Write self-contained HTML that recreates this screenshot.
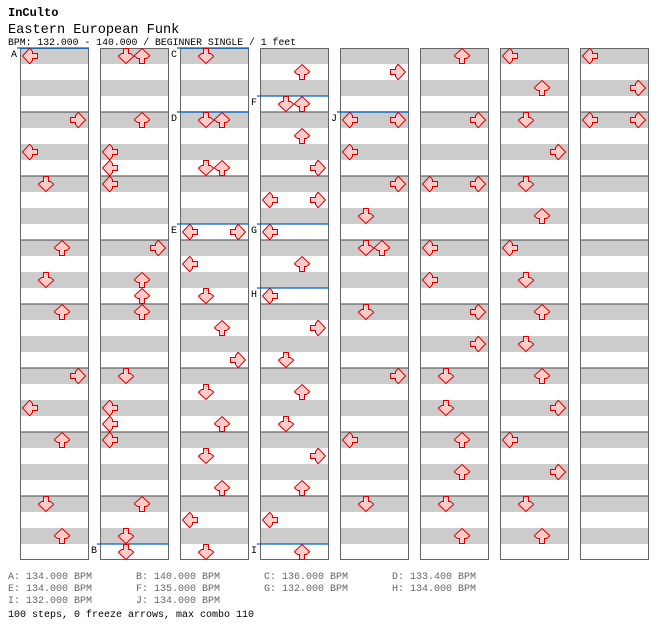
<!DOCTYPE html>
<html><head><meta charset="utf-8"><style>
body{margin:0;background:#fff;width:672px;height:644px;overflow:hidden}
svg{display:block}
text{font-family:"Liberation Mono",monospace}
</style></head><body>
<svg width="672" height="644" viewBox="0 0 672 644" xmlns="http://www.w3.org/2000/svg">
<defs>
<g id="U"><polygon points="8,0.5 15.5,7.5 15.5,8 12.5,10.5 10.5,10.5 10.5,15.5 5.5,15.5 5.5,10.5 3.5,10.5 0.5,8 0.5,7.5" fill="#ffcccc" stroke="#dd0000" stroke-width="1"/></g>
<g id="D"><use href="#U" transform="rotate(180 8 8)"/></g>
<g id="L"><use href="#U" transform="rotate(-90 8 8)"/></g>
<g id="R"><use href="#U" transform="rotate(90 8 8)"/></g>
<g id="col">
<rect x="0" y="48" width="68" height="512" fill="#fff"/>
<g fill="#cccccc">
<rect x="0" y="48" width="68" height="16"/><rect x="0" y="80" width="68" height="16"/><rect x="0" y="112" width="68" height="16"/><rect x="0" y="144" width="68" height="16"/>
<rect x="0" y="176" width="68" height="16"/><rect x="0" y="208" width="68" height="16"/><rect x="0" y="240" width="68" height="16"/><rect x="0" y="272" width="68" height="16"/>
<rect x="0" y="304" width="68" height="16"/><rect x="0" y="336" width="68" height="16"/><rect x="0" y="368" width="68" height="16"/><rect x="0" y="400" width="68" height="16"/>
<rect x="0" y="432" width="68" height="16"/><rect x="0" y="464" width="68" height="16"/><rect x="0" y="496" width="68" height="16"/><rect x="0" y="528" width="68" height="16"/>
</g>
<g stroke="#666" stroke-width="1.2">
<line x1="0" y1="112" x2="68" y2="112"/><line x1="0" y1="176" x2="68" y2="176"/><line x1="0" y1="240" x2="68" y2="240"/><line x1="0" y1="304" x2="68" y2="304"/><line x1="0" y1="368" x2="68" y2="368"/><line x1="0" y1="432" x2="68" y2="432"/><line x1="0" y1="496" x2="68" y2="496"/>
</g>
<rect x="0.5" y="48.5" width="68" height="511" fill="none" stroke="#666" stroke-width="1"/>
</g>
</defs>
<text x="8" y="16" font-size="12" font-weight="bold">InCulto</text>
<text x="8" y="33" font-size="13.6">Eastern European Funk</text>
<text x="8" y="45" font-size="9.8">BPM: 132.000 - 140.000 / BEGINNER SINGLE / 1 feet</text>

<use href="#col" x="20"/><use href="#col" x="100"/><use href="#col" x="180"/><use href="#col" x="260"/>
<use href="#col" x="340"/><use href="#col" x="420"/><use href="#col" x="500"/><use href="#col" x="580"/>

<g stroke="#0066cc" stroke-width="1.2">
<line x1="17" y1="48" x2="89" y2="48"/>
<line x1="97" y1="544" x2="169" y2="544"/>
<line x1="177" y1="48" x2="249" y2="48"/>
<line x1="177" y1="112" x2="249" y2="112"/>
<line x1="177" y1="224" x2="249" y2="224"/>
<line x1="257" y1="96" x2="329" y2="96"/>
<line x1="257" y1="224" x2="329" y2="224"/>
<line x1="257" y1="288" x2="329" y2="288"/>
<line x1="257" y1="544" x2="329" y2="544"/>
<line x1="337" y1="112" x2="409" y2="112"/>
</g>
<g font-size="10">
<text x="11" y="57">A</text><text x="91" y="553">B</text><text x="171" y="57">C</text><text x="171" y="121">D</text><text x="171" y="233">E</text>
<text x="251" y="105">F</text><text x="251" y="233">G</text><text x="251" y="297">H</text><text x="251" y="553">I</text><text x="331" y="121">J</text>
</g>

<!-- col1 -->
<use href="#L" x="22" y="48"/><use href="#R" x="70" y="112"/><use href="#L" x="22" y="144"/><use href="#D" x="38" y="176"/>
<use href="#U" x="54" y="240"/><use href="#D" x="38" y="272"/><use href="#U" x="54" y="304"/><use href="#R" x="70" y="368"/>
<use href="#L" x="22" y="400"/><use href="#U" x="54" y="432"/><use href="#D" x="38" y="496"/><use href="#U" x="54" y="528"/>
<!-- col2 -->
<use href="#D" x="118" y="48"/><use href="#U" x="134" y="48"/><use href="#U" x="134" y="112"/><use href="#L" x="102" y="144"/>
<use href="#L" x="102" y="160"/><use href="#L" x="102" y="176"/><use href="#R" x="150" y="240"/><use href="#U" x="134" y="272"/>
<use href="#U" x="134" y="288"/><use href="#U" x="134" y="304"/><use href="#D" x="118" y="368"/><use href="#L" x="102" y="400"/>
<use href="#L" x="102" y="416"/><use href="#L" x="102" y="432"/><use href="#U" x="134" y="496"/><use href="#D" x="118" y="528"/><use href="#D" x="118" y="544"/>
<!-- col3 -->
<use href="#D" x="198" y="48"/><use href="#D" x="198" y="112"/><use href="#U" x="214" y="112"/><use href="#D" x="198" y="160"/><use href="#U" x="214" y="160"/>
<use href="#L" x="182" y="224"/><use href="#R" x="230" y="224"/><use href="#L" x="182" y="256"/><use href="#D" x="198" y="288"/>
<use href="#U" x="214" y="320"/><use href="#R" x="230" y="352"/><use href="#D" x="198" y="384"/><use href="#U" x="214" y="416"/>
<use href="#D" x="198" y="448"/><use href="#U" x="214" y="480"/><use href="#L" x="182" y="512"/><use href="#D" x="198" y="544"/>
<!-- col4 -->
<use href="#U" x="294" y="64"/><use href="#D" x="278" y="96"/><use href="#U" x="294" y="96"/><use href="#U" x="294" y="128"/>
<use href="#R" x="310" y="160"/><use href="#L" x="262" y="192"/><use href="#R" x="310" y="192"/><use href="#L" x="262" y="224"/>
<use href="#U" x="294" y="256"/><use href="#L" x="262" y="288"/><use href="#R" x="310" y="320"/><use href="#D" x="278" y="352"/>
<use href="#U" x="294" y="384"/><use href="#D" x="278" y="416"/><use href="#R" x="310" y="448"/><use href="#U" x="294" y="480"/>
<use href="#L" x="262" y="512"/><use href="#U" x="294" y="544"/>
<!-- col5 -->
<use href="#R" x="390" y="64"/><use href="#L" x="342" y="112"/><use href="#R" x="390" y="112"/><use href="#L" x="342" y="144"/>
<use href="#R" x="390" y="176"/><use href="#D" x="358" y="208"/><use href="#D" x="358" y="240"/><use href="#U" x="374" y="240"/>
<use href="#D" x="358" y="304"/><use href="#R" x="390" y="368"/><use href="#L" x="342" y="432"/><use href="#D" x="358" y="496"/>
<!-- col6 -->
<use href="#U" x="454" y="48"/><use href="#R" x="470" y="112"/><use href="#L" x="422" y="176"/><use href="#R" x="470" y="176"/>
<use href="#L" x="422" y="240"/><use href="#L" x="422" y="272"/><use href="#R" x="470" y="304"/><use href="#R" x="470" y="336"/>
<use href="#D" x="438" y="368"/><use href="#D" x="438" y="400"/><use href="#U" x="454" y="432"/><use href="#U" x="454" y="464"/>
<use href="#D" x="438" y="496"/><use href="#U" x="454" y="528"/>
<!-- col7 -->
<use href="#L" x="502" y="48"/><use href="#U" x="534" y="80"/><use href="#D" x="518" y="112"/><use href="#R" x="550" y="144"/>
<use href="#D" x="518" y="176"/><use href="#U" x="534" y="208"/><use href="#L" x="502" y="240"/><use href="#D" x="518" y="272"/>
<use href="#U" x="534" y="304"/><use href="#D" x="518" y="336"/><use href="#U" x="534" y="368"/><use href="#R" x="550" y="400"/>
<use href="#L" x="502" y="432"/><use href="#R" x="550" y="464"/><use href="#D" x="518" y="496"/><use href="#U" x="534" y="528"/>
<!-- col8 -->
<use href="#L" x="582" y="48"/><use href="#R" x="630" y="80"/><use href="#L" x="582" y="112"/><use href="#R" x="630" y="112"/>

<g font-size="10" fill="#666">
<text x="8" y="579">A: 134.000 BPM</text><text x="136" y="579">B: 140.000 BPM</text><text x="264" y="579">C: 136.000 BPM</text><text x="392" y="579">D: 133.400 BPM</text>
<text x="8" y="591">E: 134.000 BPM</text><text x="136" y="591">F: 135.000 BPM</text><text x="264" y="591">G: 132.000 BPM</text><text x="392" y="591">H: 134.000 BPM</text>
<text x="8" y="603">I: 132.000 BPM</text><text x="136" y="603">J: 134.000 BPM</text>
</g>
<text x="8" y="617" font-size="10">100 steps, 0 freeze arrows, max combo 110</text>
</svg>
</body></html>
